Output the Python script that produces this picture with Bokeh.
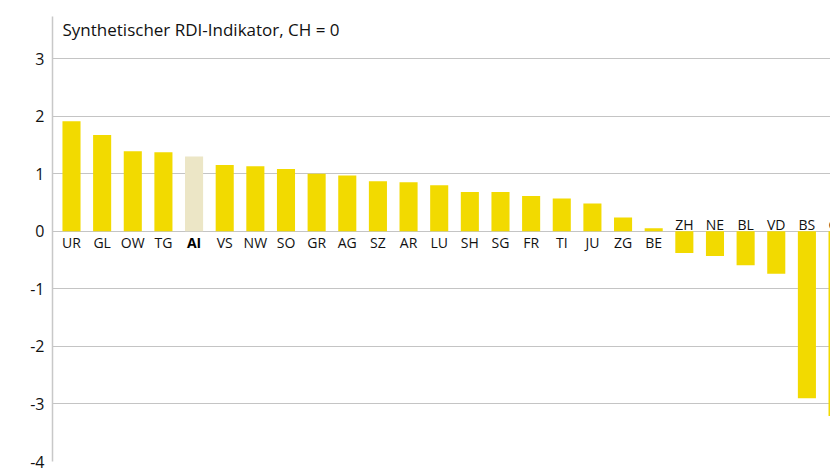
from bokeh.plotting import figure
from bokeh.models import ColumnDataSource, FixedTicker, Range1d, Label
from bokeh.core.properties import value
from bokeh.embed import file_html
from bokeh.resources import INLINE

# ---- data ----
cantons = ["UR", "GL", "OW", "TG", "AI", "VS", "NW", "SO", "GR", "AG", "SZ", "AR", "LU",
           "SH", "SG", "FR", "TI", "JU", "ZG", "BE", "ZH", "NE", "BL", "VD", "BS", "GE"]
values = [1.91, 1.67, 1.39, 1.37, 1.30, 1.15, 1.13, 1.08, 1.00, 0.97, 0.87, 0.85, 0.80,
          0.68, 0.68, 0.61, 0.57, 0.48, 0.24, 0.05, -0.38, -0.43, -0.59, -0.74, -2.90, -3.21]
highlight = "AI"
y_ticks = [-4, -3, -2, -1, 0, 1, 2, 3]
y_tick_labels = ["-4", "-3", "-2", "-1", "0", "1", "2", "3"]
title_text = "Synthetischer RDI-Indikator, CH = 0"

# ---- styles ----
YELLOW = "#F2DA00"
BEIGE = "#ECE6C6"
TEXT = "#111111"
GRID = "#c4c4c4"
FONT = "Open Sans"

xs = list(range(len(cantons)))
colors = [BEIGE if c == highlight else YELLOW for c in cantons]

p = figure(width=830, height=475, output_backend="svg", toolbar_location=None,
           x_axis_location=None, x_range=Range1d(-0.62, 24.77), y_range=Range1d(-4, 3.73),
           min_border_left=52, min_border_right=0, min_border_top=16, min_border_bottom=14)
p.outline_line_color = None
p.xgrid.visible = False
p.ygrid.ticker = FixedTicker(ticks=y_ticks)
p.ygrid.grid_line_color = GRID
p.ygrid.grid_line_width = 1

ax = p.yaxis[0]
ax.ticker = FixedTicker(ticks=y_ticks)
ax.major_label_overrides = {t: s for t, s in zip(y_ticks, y_tick_labels)}
ax.axis_line_color = "#c8c8c8"
ax.axis_line_width = 1.5
ax.major_tick_line_color = None
ax.minor_tick_line_color = None
ax.major_tick_in = 0
ax.major_tick_out = 0
ax.major_label_standoff = 8
ax.major_label_text_font = FONT
ax.major_label_text_font_size = "16px"
ax.major_label_text_color = TEXT

src = ColumnDataSource(dict(x=xs, top=values, color=colors, name=cantons))
p.vbar(x="x", top="top", bottom=0, width=0.59, fill_color="color", line_color=None, source=src)

pos = [i for i, v in enumerate(values) if v >= 0 and cantons[i] != highlight]
neg = [i for i, v in enumerate(values) if v < 0]
hl = [i for i, c in enumerate(cantons) if c == highlight]

def sub(idx):
    return ColumnDataSource(dict(x=[xs[i] for i in idx], y=[0] * len(idx),
                                 t=[cantons[i] for i in idx]))

p.text(x="x", y="y", text="t", source=sub(pos), text_align="center", text_baseline="top",
       y_offset=2, text_font=value(FONT), text_font_size="14px", text_color=TEXT)
p.text(x="x", y="y", text="t", source=sub(hl), text_align="center", text_baseline="top",
       y_offset=2, text_font=value(FONT), text_font_size="14px", text_font_style="bold",
       text_color="#000000")
p.text(x="x", y="y", text="t", source=sub(neg), text_align="center", text_baseline="alphabetic",
       y_offset=-7, text_font=value(FONT), text_font_size="14px", text_color=TEXT)

p.add_layout(Label(x=-0.62, y=3.73, x_offset=10, y_offset=-1, text=title_text,
                   text_baseline="top", text_align="left", text_font=FONT,
                   text_font_size="17px", text_color=TEXT))

open("out.html", "w").write(file_html(p, INLINE))
